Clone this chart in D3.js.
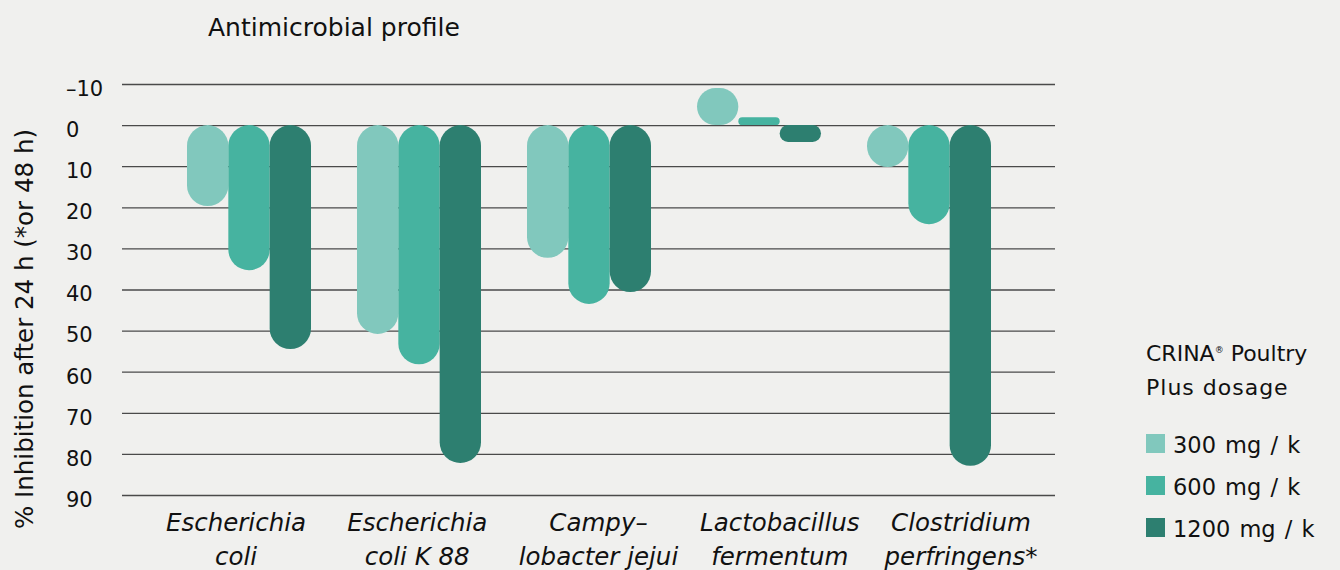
<!DOCTYPE html>
<html>
<head>
<meta charset="utf-8">
<script src="https://cdn.jsdelivr.net/npm/d3@7"></script>
<style>
  body { margin: 0; background: #f0f0ee; }
  svg { display: block; font-family: "DejaVu Sans", sans-serif; }
</style>
</head>
<body>
<div id="chart"></div>
<script>
// Chart data
const categories = [
  ["Escherichia", "coli"],
  ["Escherichia", "coli K 88"],
  ["Campy–", "lobacter jejui"],
  ["Lactobacillus", "fermentum"],
  ["Clostridium", "perfringens*"]
];
const dosages = ["300 mg / k", "600 mg / k", "1200 mg / k"];
const values300 = [19.7, 50.8, 32.3, -9.0, 10.2];
const values600 = [35.3, 58.2, 43.5, -1.9, 24.1];
const values1200 = [54.5, 82.2, 40.6, 4.1, 82.9];
const yTicks = [-10, 0, 10, 20, 30, 40, 50, 60, 70, 80, 90];
const colors = ["#81c8bd", "#46b3a0", "#2d7f70"];

const width = 1340, height = 570;
const series = [values300, values600, values1200];

const svg = d3.select("#chart").append("svg")
  .attr("width", width)
  .attr("height", height);

svg.append("rect")
  .attr("width", width).attr("height", height)
  .attr("fill", "#f0f0ee");

// Scales
const y = d3.scaleLinear().domain([-10, 90]).range([84, 495]);
const x = d3.scalePoint().domain(d3.range(categories.length)).range([249, 929]);
const xLabel = d3.scalePoint().domain(d3.range(categories.length)).range([236, 961]);
const sub = d3.scaleBand().domain(d3.range(dosages.length)).range([-62, 62]);

// Gridlines + tick labels
const gridLeft = 122, gridRight = 1055;
const yAxis = svg.append("g")
  .attr("transform", `translate(${gridLeft},0)`)
  .call(d3.axisLeft(y)
    .tickValues(yTicks)
    .tickSize(-(gridRight - gridLeft))
    .tickFormat(d => d < 0 ? "–" + Math.abs(d) : d));

yAxis.select(".domain").remove();
yAxis.selectAll(".tick line")
  .attr("stroke", "#4a4a4a")
  .attr("stroke-width", 1.3);
yAxis.selectAll(".tick text")
  .attr("x", -(gridLeft - 66))
  .attr("text-anchor", "start")
  .attr("dy", "0.54em")
  .attr("fill", "#111")
  .style("font-size", "21px")
  .style("font-family", "'DejaVu Sans', sans-serif");

// Pill shaped bars
const groups = svg.append("g")
  .selectAll("g")
  .data(categories.map((c, i) => i))
  .join("g")
  .attr("transform", i => `translate(${x(i)},0)`);

groups.selectAll("rect")
  .data(i => series.map((s, k) => ({ k, v: s[i] })))
  .join("rect")
  .attr("x", d => sub(d.k))
  .attr("width", sub.bandwidth())
  .attr("y", d => Math.min(y(0), y(d.v)))
  .attr("height", d => Math.abs(y(d.v) - y(0)))
  .attr("rx", d => Math.min(sub.bandwidth(), Math.abs(y(d.v) - y(0))) / 2)
  .attr("fill", d => colors[d.k]);

// Category labels
const xl = svg.append("g")
  .selectAll("text")
  .data(categories)
  .join("text")
  .attr("x", (d, i) => xLabel(i))
  .attr("y", 531)
  .attr("text-anchor", "middle")
  .attr("fill", "#111")
  .style("font-size", "24.5px")
  .style("font-style", "italic");

xl.selectAll("tspan")
  .data(d => d)
  .join("tspan")
  .attr("x", function () { return this.parentNode.getAttribute("x"); })
  .attr("dy", (d, j) => j === 0 ? 0 : 33.5)
  .text(d => d);

// Title
svg.append("text")
  .attr("x", 208)
  .attr("y", 36)
  .attr("fill", "#111")
  .style("font-size", "25px")
  .text("Antimicrobial profile");

// Y axis title
svg.append("text")
  .attr("transform", `translate(33,329) rotate(-90)`)
  .attr("text-anchor", "middle")
  .attr("fill", "#111")
  .style("font-size", "24.5px")
  .text("% Inhibition after 24 h (*or 48 h)");

// Legend
const legend = svg.append("g").attr("transform", "translate(1146,0)");
const lt = legend.append("text").attr("fill", "#111").style("font-size", "22px");
lt.append("tspan").attr("x", 0).attr("y", 361).text("CRINA");
lt.append("tspan").attr("dy", -8).style("font-size", "9px").text("®");
lt.append("tspan").attr("dy", 8).text(" Poultry");
legend.append("text")
  .attr("x", 0).attr("y", 395)
  .attr("fill", "#111")
  .style("font-size", "22px")
  .style("letter-spacing", "1px")
  .text("Plus dosage");

const items = legend.selectAll(".item")
  .data(dosages)
  .join("g")
  .attr("class", "item")
  .attr("transform", (d, i) => `translate(0,${434 + i * 42})`);

items.append("rect")
  .attr("width", 19).attr("height", 19)
  .attr("fill", (d, i) => colors[i]);

items.append("text")
  .attr("x", 27)
  .attr("y", 19)
  .attr("fill", "#111")
  .style("font-size", "22.5px")
  .style("word-spacing", "2px")
  .text(d => d);
</script>
</body>
</html>
